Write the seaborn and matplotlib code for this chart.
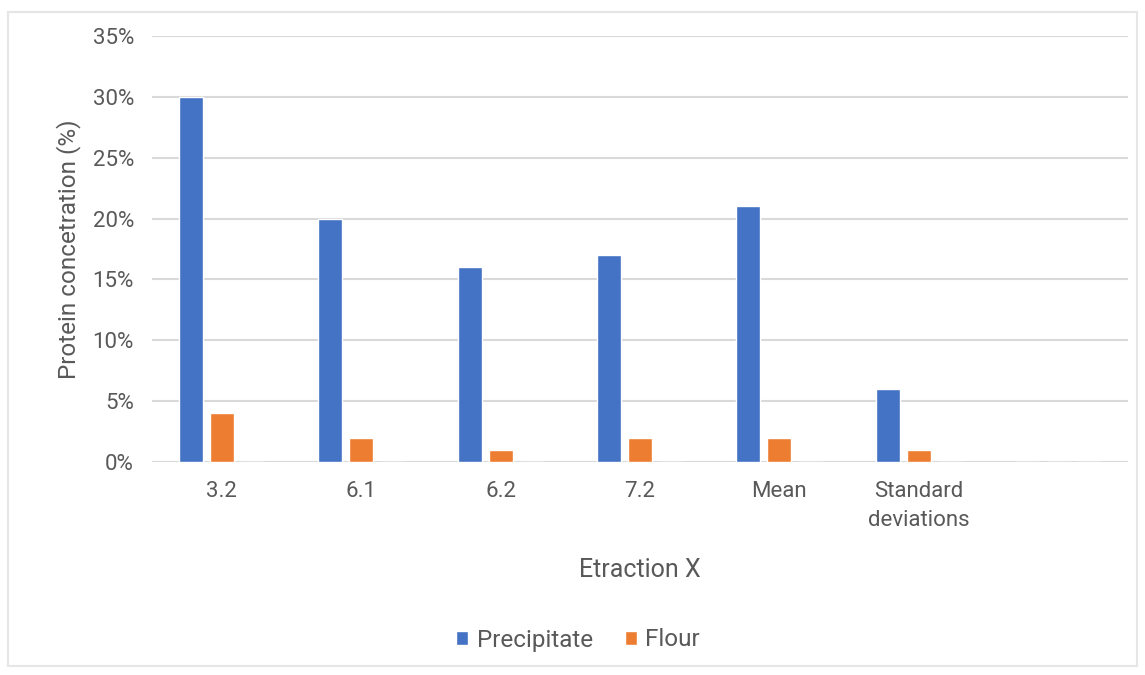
import matplotlib
matplotlib.use("Agg")
import matplotlib.pyplot as plt
from matplotlib.patches import Rectangle, Patch
import seaborn as sns
import pandas as pd

categories = ["3.2", "6.1", "6.2", "7.2", "Mean", "Standard\ndeviations", " "]
precipitate = [30, 20, 16, 17, 21, 6, 0]
flour = [4, 2, 1, 2, 2, 1, 0]
spare = [0, 0, 0, 0, 0, 0, 0]
series = ["Precipitate", "Flour", "_spare"]
colors = ["#4472C4", "#ED7D31", "#FFFFFF"]
yticks = [0, 5, 10, 15, 20, 25, 30, 35]

rows = []
for name, vals in zip(series, [precipitate, flour, spare]):
    for c, v in zip(categories, vals):
        rows.append({"cat": c, "series": name, "value": v})
df = pd.DataFrame(rows)

sns.set_style("white")
plt.rcParams["font.family"] = ["Roboto", "DejaVu Sans"]

fig = plt.figure(figsize=(11.45, 6.75), dpi=100)
ax = fig.add_axes([152/1145, 1-462/675, (1128-152)/1145, (462-36)/675])

sns.barplot(data=df, x="cat", y="value", hue="series", order=categories,
            hue_order=series, palette=colors, width=0.667, gap=0.226,
            errorbar=None, ax=ax, legend=False, saturation=1)

ax.set_ylim(0, 35)
ax.set_yticks(yticks)
ax.set_yticklabels([f"{t}%" for t in yticks])
ax.set_xlim(-0.5, len(categories) - 0.5)
ax.yaxis.grid(True, color="#D9D9D9", linewidth=1.5)
ax.set_axisbelow(True)
for s in ax.spines.values():
    s.set_visible(False)
ax.tick_params(axis="both", length=0, labelsize=16, colors="#595959")
ax.tick_params(axis="y", pad=13)
ax.tick_params(axis="x", pad=14)
for lbl in ax.get_xticklabels():
    lbl.set_verticalalignment("top")
    lbl.set_linespacing(1.45)
ax.set_xlabel("Etraction X", fontsize=18, color="#595959", labelpad=20)
ax.set_ylabel("Protein concetration (%)", fontsize=17.5, color="#595959", labelpad=8)

handles = [Patch(facecolor=colors[0], label="Precipitate"),
           Patch(facecolor=colors[1], label="Flour")]
fig.legend(handles=handles, loc="center", bbox_to_anchor=(578/1145, 1-640/675),
           ncol=2, frameon=False, fontsize=17.5, handlelength=0.5, handleheight=0.5,
           handletextpad=0.35, columnspacing=1.3, labelcolor="#595959")

fig.patches.append(Rectangle((8/1145, 1-666/675), (1137-8)/1145, (666-12)/675,
                             transform=fig.transFigure, fill=False,
                             edgecolor="#E6E6E6", linewidth=1.5))

fig.savefig("out.png", dpi=100)
